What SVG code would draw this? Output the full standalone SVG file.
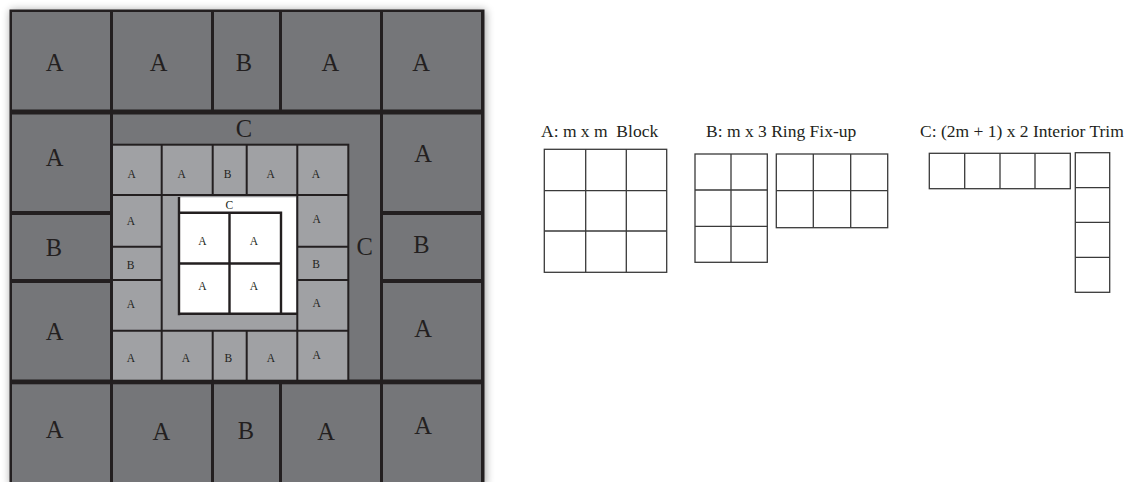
<svg xmlns="http://www.w3.org/2000/svg" width="1135" height="482" viewBox="0 0 1135 482">
<defs>
<filter id="sh" x="-10%" y="-10%" width="120%" height="120%"><feGaussianBlur stdDeviation="4"/></filter>
<style>
.dk{fill:#757679}
.lt{fill:#a0a1a4}
.wh{fill:#ffffff}
.ln{stroke:#231f20;fill:none}
.r{stroke-width:2}
.g{stroke-width:2.4}
.big{font-family:"Liberation Serif","Times New Roman",serif;font-size:24.5px;fill:#231f20;text-anchor:middle}
.sm{font-family:"Liberation Serif","Times New Roman",serif;font-size:11.5px;fill:#231f20;text-anchor:middle}
.lbl{font-family:"Liberation Serif","Times New Roman",serif;font-size:17.5px;fill:#231f20}
.gr{stroke:#3a3a3a;stroke-width:1.3;fill:#fff}
</style>
</defs>
<rect width="1135" height="482" fill="#fff"/>
<rect x="10" y="10" width="476" height="476" fill="#000" opacity="0.35" filter="url(#sh)"/>
<rect x="9.5" y="9.5" width="475" height="475" fill="#231f20"/>

<!-- outer ring of blocks -->
<g id="o-r1c1"><rect class="dk" x="12" y="12" width="98" height="97.5"/><text class="big" x="54.7" y="71">A</text></g>
<g id="o-r1c2"><rect class="dk" x="113" y="12" width="98" height="97.5"/><text class="big" x="158.7" y="71">A</text></g>
<g id="o-r1c3"><rect class="dk" x="214" y="12" width="65" height="97.5"/><text class="big" x="243.8" y="71">B</text></g>
<g id="o-r1c4"><rect class="dk" x="282" y="12" width="98" height="97.5"/><text class="big" x="330.3" y="71">A</text></g>
<g id="o-r1c5"><rect class="dk" x="383" y="12" width="98" height="97.5"/><text class="big" x="421" y="71">A</text></g>

<g id="o-r2c1"><rect class="dk" x="12" y="114.5" width="98" height="96.5"/><text class="big" x="54.7" y="165.7">A</text></g>
<g id="o-r3c1"><rect class="dk" x="12" y="215" width="98" height="64"/><text class="big" x="54" y="256">B</text></g>
<g id="o-r4c1"><rect class="dk" x="12" y="283" width="98" height="96.5"/><text class="big" x="54.7" y="340">A</text></g>
<g id="o-r2c5"><rect class="dk" x="383" y="114.5" width="98" height="96.5"/><text class="big" x="423" y="162.3">A</text></g>
<g id="o-r3c5"><rect class="dk" x="383" y="215" width="98" height="64"/><text class="big" x="421.5" y="253">B</text></g>
<g id="o-r4c5"><rect class="dk" x="383" y="283" width="98" height="96.5"/><text class="big" x="423" y="336.7">A</text></g>

<g id="o-r5c1"><rect class="dk" x="12" y="384.3" width="98" height="100"/><text class="big" x="54.7" y="438.3">A</text></g>
<g id="o-r5c2"><rect class="dk" x="113" y="384.3" width="98" height="100"/><text class="big" x="161.3" y="440">A</text></g>
<g id="o-r5c3"><rect class="dk" x="214" y="384.3" width="65" height="100"/><text class="big" x="246" y="439">B</text></g>
<g id="o-r5c4"><rect class="dk" x="282" y="384.3" width="98" height="100"/><text class="big" x="326" y="440">A</text></g>
<g id="o-r5c5"><rect class="dk" x="383" y="384.3" width="98" height="100"/><text class="big" x="423" y="434.3">A</text></g>

<!-- C trim of outer level -->
<g id="outer-trim"><rect class="dk" x="113" y="114.5" width="267" height="265"/>
<text class="big" x="244" y="136.5">C</text><text class="big" x="364.7" y="255">C</text></g>

<!-- middle ring -->
<g id="mid-ring">
<rect x="111.5" y="143.7" width="237.8" height="237" fill="#231f20"/>
<rect class="lt" x="113" y="145.7" width="234.3" height="234"/>
</g>
<g id="m-t1"><text class="sm" x="131.7" y="178.3">A</text></g>
<g id="m-t2"><text class="sm" x="181.7" y="178.3">A</text></g>
<g id="m-t3"><text class="sm" x="227.7" y="178.3">B</text></g>
<g id="m-t4"><text class="sm" x="270.7" y="178.3">A</text></g>
<g id="m-t5"><text class="sm" x="316" y="178.3">A</text></g>
<g id="m-l1"><text class="sm" x="131" y="225">A</text></g>
<g id="m-l2"><text class="sm" x="130.7" y="269.3">B</text></g>
<g id="m-l3"><text class="sm" x="131" y="307.7">A</text></g>
<g id="m-r1"><text class="sm" x="316.7" y="223.3">A</text></g>
<g id="m-r2"><text class="sm" x="316" y="268.3">B</text></g>
<g id="m-r3"><text class="sm" x="316.7" y="306.7">A</text></g>
<g id="m-b1"><text class="sm" x="131" y="361.7">A</text></g>
<g id="m-b2"><text class="sm" x="186" y="361.7">A</text></g>
<g id="m-b3"><text class="sm" x="228.3" y="361.7">B</text></g>
<g id="m-b4"><text class="sm" x="271" y="361.7">A</text></g>
<g id="m-b5"><text class="sm" x="316.7" y="359.3">A</text></g>

<!-- inner white level -->
<g id="inner-trim"><rect class="wh" x="179" y="197.3" width="117.3" height="116.7"/><text class="sm" x="229.3" y="209.3">C</text></g>
<g id="i-11"><text class="sm" x="202.3" y="245">A</text></g>
<g id="i-12"><text class="sm" x="254" y="245">A</text></g>
<g id="i-21"><text class="sm" x="202.3" y="290">A</text></g>
<g id="i-22"><text class="sm" x="254" y="290">A</text></g>

<!-- separator lines -->
<g id="connectors">
<path class="ln r" d="M112 195H348M112 330.7H348M161.7 145V381M297.3 145V381M212.7 145V195M246.7 145V195M212.7 330.7V381M246.7 330.7V381M112 246.7H161.7M112 280H161.7M297.3 246.7H348M297.3 280H348"/>
<path class="ln g" d="M179 197V315.2M177.8 313.8H297.3M177.8 212.8H282.2M281 212V315M229.5 212V314M177.8 263.5H282.2"/>
</g>

<!-- legend -->
<g id="legend-A">
<text class="lbl" x="541" y="136.5" xml:space="preserve">A: m x m  Block</text>
<rect class="gr" x="544.3" y="149.3" width="122.4" height="123"/>
<path class="gr" d="M585.7 149.3V272.3M626.3 149.3V272.3M544.3 190.7H666.7M544.3 231H666.7"/>
</g>
<g id="legend-B">
<text class="lbl" x="706" y="136.5">B: m x 3 Ring Fix-up</text>
<rect class="gr" x="695" y="154" width="72.3" height="108.3"/>
<path class="gr" d="M731 154V262.3M695 190H767.3M695 226.3H767.3"/>
<rect class="gr" x="776.3" y="154" width="111.4" height="73.7"/>
<path class="gr" d="M813.3 154V227.7M850.7 154V227.7M776.3 190.7H887.7"/>
</g>
<g id="legend-C">
<text class="lbl" x="920" y="136.5">C: (2m + 1) x 2 Interior Trim</text>
<rect class="gr" x="929.3" y="153.3" width="141" height="35.4"/>
<path class="gr" d="M964.7 153.3V188.7M1000 153.3V188.7M1035 153.3V188.7"/>
<rect class="gr" x="1075.3" y="152.7" width="34.4" height="139.6"/>
<path class="gr" d="M1075.3 187.7H1109.7M1075.3 222.3H1109.7M1075.3 257.3H1109.7"/>
</g>
</svg>
